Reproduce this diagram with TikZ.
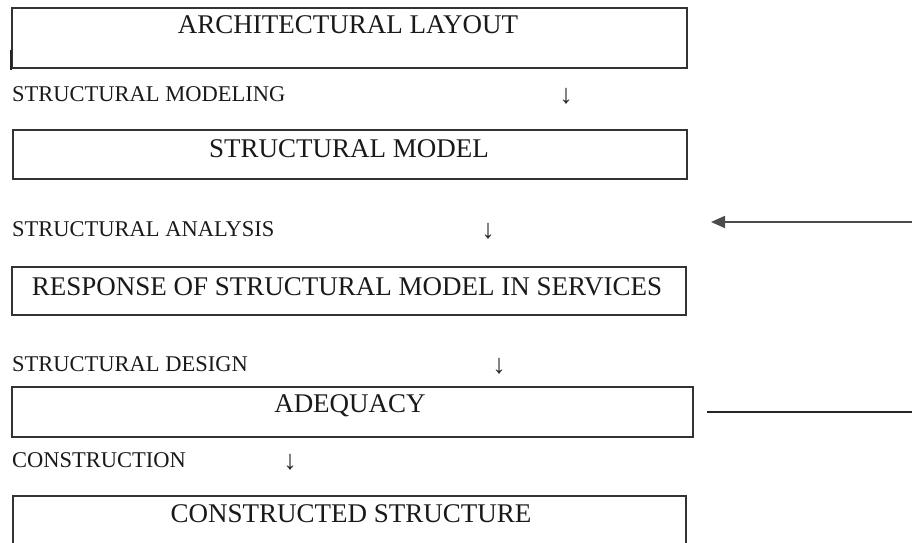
\documentclass[tikz,border=0pt]{standalone}
\usepackage{fontspec}
\setmainfont{Liberation Serif}
\usetikzlibrary{arrows.meta}
\begin{document}
\begin{tikzpicture}[x=1pt,y=-1pt,
  boxline/.style={draw=black!80, line width=1.3pt, rectangle, inner sep=0pt},
  boxtext/.style={font=\fontsize{27}{30}\selectfont, anchor=base, inner sep=0pt, text=black!90},
  lbl/.style={font=\fontsize{22.5}{26}\selectfont, anchor=base west, inner sep=0pt, text=black!90},
  darrow/.style={font=\fontsize{27}{30}\selectfont, anchor=base, inner sep=0pt, text=black!85}
]
\useasboundingbox (0,0) rectangle (912,542);

% boxes
\node[boxline, minimum width=675pt, minimum height=60pt] (b1) at (349.5,38) {};
\node[boxline, minimum width=674pt, minimum height=49pt] (b2) at (350,154.5) {};
\node[boxline, minimum width=674pt, minimum height=48pt] (b3) at (349,291) {};
\node[boxline, minimum width=681pt, minimum height=50pt] (b4) at (352.5,412) {};
\draw[draw=black!80, line width=1.3pt] (13,545) -- (13,496) -- (686,496) -- (686,545);
\draw[line width=2pt, black!85] (11,50) -- (11,70);

% box texts
\node[boxtext] (t1) at (348,33) {ARCHITECTURAL LAYOUT};
\node[boxtext] (t2) at (349,157) {STRUCTURAL MODEL};
\node[boxtext] (t3) at (347,295) {RESPONSE OF STRUCTURAL MODEL IN SERVICES};
\node[boxtext] (t4) at (350,412) {ADEQUACY};
\node[boxtext] (t5) at (351,522) {CONSTRUCTED STRUCTURE};

% step labels
\node[lbl] (l1) at (12,101) {STRUCTURAL MODELING};
\node[lbl] (l2) at (12,236) {STRUCTURAL ANALYSIS};
\node[lbl] (l3) at (12,371) {STRUCTURAL DESIGN};
\node[lbl] (l4) at (12,467) {CONSTRUCTION};

% down arrows
\node[darrow] (d1) at (566,103) {↓};
\node[darrow] (d2) at (488,238) {↓};
\node[darrow] (d3) at (499,373) {↓};
\node[darrow] (d4) at (290,469) {↓};

% right side connectors
\coordinate (ra) at (914,222);
\coordinate (rb) at (711,222);
\draw[line width=1.8pt, black!70, -{Triangle[length=14pt,width=12pt]}] (ra) -- (rb);
\coordinate (la) at (707,412);
\coordinate (lb) at (914,412);
\draw[line width=1.1pt, black!85] (la) -- (lb);
\end{tikzpicture}
\end{document}
